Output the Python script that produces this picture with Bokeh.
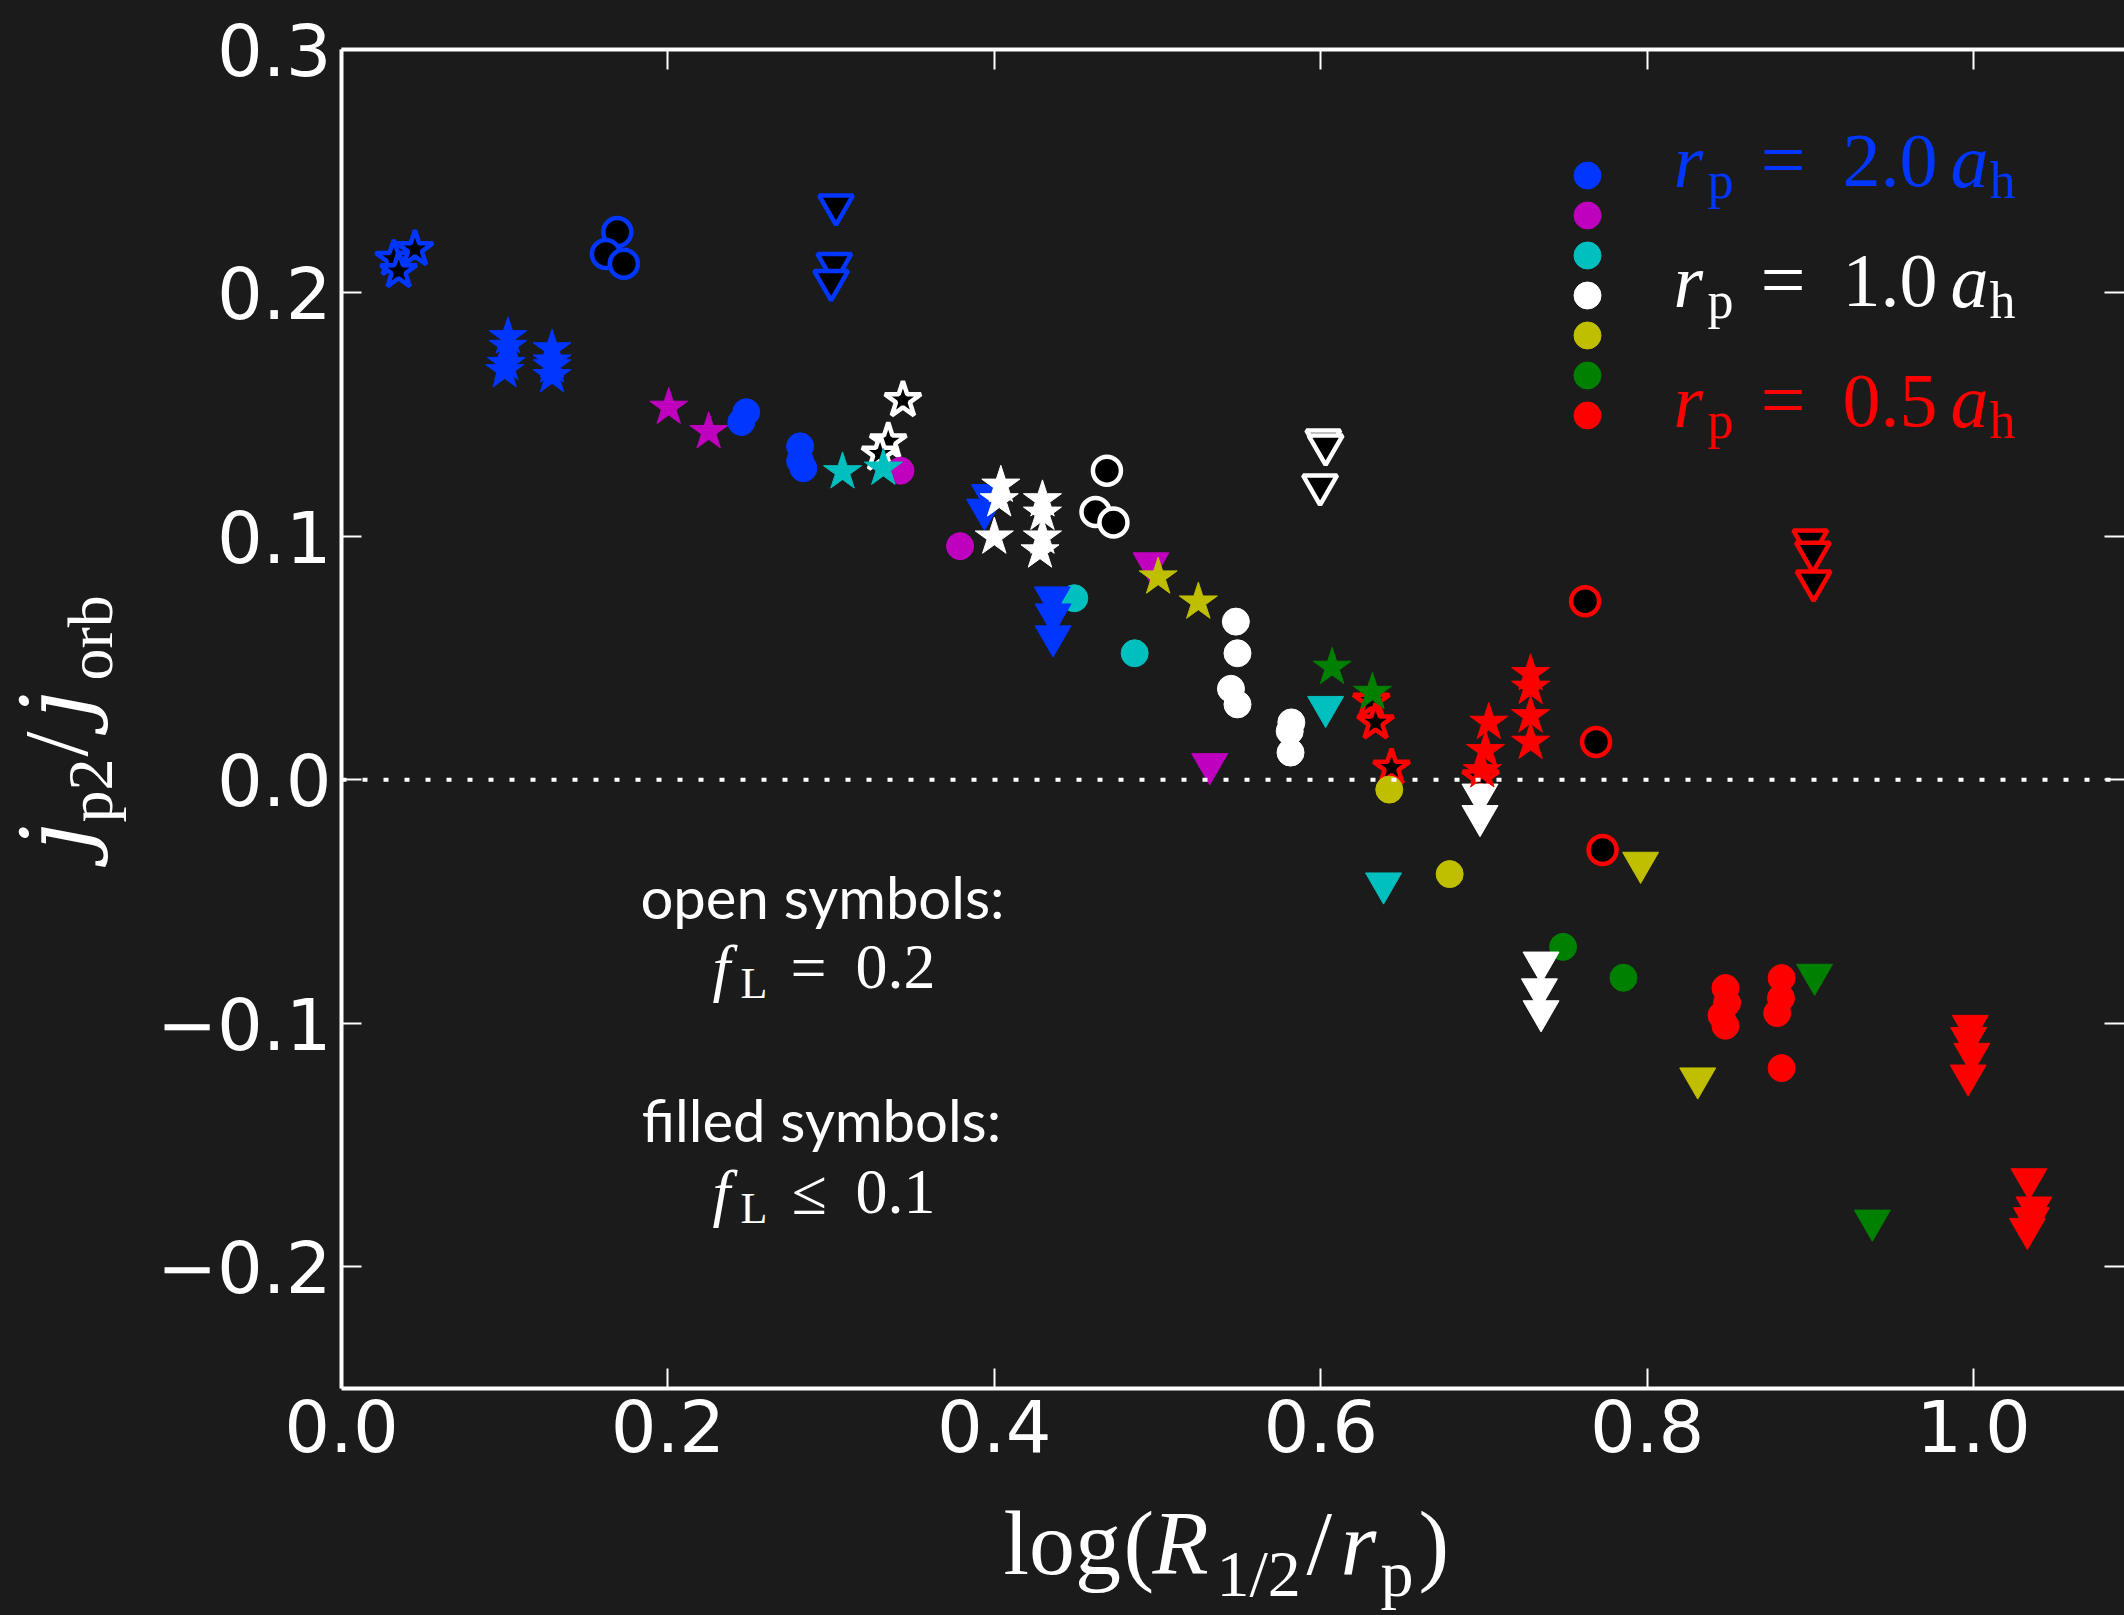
from bokeh.plotting import figure
from bokeh.models import Range1d, LinearAxis, FixedTicker, Span, Label
from bokeh.layouts import row, column
from bokeh.embed import file_html
from bokeh.resources import INLINE

# ---------------- data ----------------
# x = log(R_1/2 / r_p), y = jdot_p2 / jdot_orb
# rp = 2.0 a_h  (blue)
blue_open_star_x = [0.032, 0.045, 0.035]
blue_open_star_y = [0.214, 0.218, 0.209]
blue_open_circle_x = [0.169, 0.162, 0.173]
blue_open_circle_y = [0.225, 0.216, 0.212]
blue_open_tri_x = [0.303, 0.302, 0.300]
blue_open_tri_y = [0.236, 0.212, 0.205]
blue_star_x = [0.102, 0.102, 0.101, 0.100, 0.129, 0.129, 0.129, 0.129]
blue_star_y = [0.182, 0.178, 0.171, 0.168, 0.177, 0.172, 0.170, 0.166]
blue_circle_x = [0.248, 0.245, 0.281, 0.281, 0.283]
blue_circle_y = [0.151, 0.147, 0.137, 0.131, 0.128]
blue_tri_x = [0.397, 0.394, 0.4355, 0.436, 0.436]
blue_tri_y = [0.117, 0.111, 0.075, 0.068, 0.059]

# magenta
mag_star_x = [0.2005, 0.225]
mag_star_y = [0.153, 0.143]
mag_circle_x = [0.3425, 0.379]
mag_circle_y = [0.127, 0.096]
mag_tri_x = [0.496, 0.532]
mag_tri_y = [0.089, 0.0065]

# cyan
cyan_star_x = [0.307, 0.332]
cyan_star_y = [0.1265, 0.128]
cyan_circle_x = [0.449, 0.486]
cyan_circle_y = [0.0746, 0.052]
cyan_tri_x = [0.603, 0.6385]
cyan_tri_y = [0.030, -0.0425]

# rp = 1.0 a_h  (white)
white_open_star_x = [0.344, 0.335, 0.330]
white_open_star_y = [0.156, 0.139, 0.134]
white_open_circle_x = [0.469, 0.462, 0.473]
white_open_circle_y = [0.127, 0.110, 0.1057]
white_open_tri_x = [0.6016, 0.603, 0.5996]
white_open_tri_y = [0.1395, 0.1374, 0.121]
white_star_x = [0.404, 0.403, 0.400, 0.4295, 0.4295, 0.4295, 0.428]
white_star_y = [0.121, 0.115, 0.0997, 0.115, 0.1095, 0.0997, 0.094]
white_circle_x = [0.548, 0.549, 0.545, 0.549, 0.582, 0.581, 0.5815]
white_circle_y = [0.065, 0.052, 0.0374, 0.031, 0.0236, 0.020, 0.0112]
white_tri_x = [0.6976, 0.6976, 0.735, 0.734, 0.735]
white_tri_y = [-0.006, -0.0148, -0.075, -0.086, -0.095]

# yellow
yel_star_x = [0.5004, 0.525]
yel_star_y = [0.0833, 0.073]
yel_circle_x = [0.642, 0.679]
yel_circle_y = [-0.004, -0.0387]
yel_tri_x = [0.796, 0.831]
yel_tri_y = [-0.034, -0.1226]

# green
green_star_x = [0.607, 0.6317]
green_star_y = [0.0462, 0.0359]
green_circle_x = [0.7485, 0.7855]
green_circle_y = [-0.0686, -0.0813]
green_tri_x = [0.9026, 0.938]
green_tri_y = [-0.080, -0.181]

# rp = 0.5 a_h  (red)
red_open_star_x = [0.631, 0.6336, 0.6434, 0.698]
red_open_star_y = [0.0325, 0.0236, 0.005, 0.001]
red_open_circle_x = [0.762, 0.7687, 0.7727]
red_open_circle_y = [0.0734, 0.0156, -0.0288]
red_open_tri_x = [0.900, 0.9016, 0.902]
red_open_tri_y = [0.0984, 0.0934, 0.0816]
red_star_x = [0.703, 0.701, 0.699, 0.7286, 0.7286, 0.7286, 0.7286]
red_star_y = [0.0236, 0.012, 0.0037, 0.0436, 0.038, 0.0263, 0.0154]
red_circle_x = [0.848, 0.849, 0.8456, 0.848, 0.8824, 0.882, 0.8797, 0.8824]
red_circle_y = [-0.0855, -0.0916, -0.0967, -0.101, -0.0814, -0.0896, -0.0958, -0.1184]
red_tri_x = [0.998, 0.997, 0.999, 0.9967, 1.034, 1.037, 1.0355, 1.033]
red_tri_y = [-0.101, -0.106, -0.1125, -0.1214, -0.164, -0.1756, -0.180, -0.1844]

x_ticks = [0.0, 0.2, 0.4, 0.6, 0.8, 1.0]
x_tick_labels = ["0.0", "0.2", "0.4", "0.6", "0.8", "1.0"]
y_ticks = [-0.2, -0.1, 0.0, 0.1, 0.2, 0.3]
y_tick_labels = ["\u22120.2", "\u22120.1", "0.0", "0.1", "0.2", "0.3"]

legend_labels = ["2.0", "", "", "1.0", "", "", "0.5"]

# ---------------- style / layout ----------------
BG = "#1b1b1b"
BLUE, MAG, CYAN, WHITE = "#0036ff", "#bf00bf", "#00bfbf", "#ffffff"
YEL, GREEN, RED = "#bfbf00", "#008000", "#ff0000"
legend_colors = [BLUE, MAG, CYAN, WHITE, YEL, GREEN, RED]
SANS = "Lato"
TICKFONT = "DejaVu Sans"
SERIF = "Liberation Serif"
JFONT = "DejaVu Serif"
BGSTYLE = {"background-color": BG}

W, H = 2124, 1615          # whole page
STRIP_W = 130              # left strip holding the y title
MAIN_BOTTOM = 1488         # page y where the x-title strip starts
STRIP_H = H - MAIN_BOTTOM
MAIN_W, MAIN_H = W - STRIP_W, MAIN_BOTTOM
FRAME_L, FRAME_T, FRAME_B = 341, 49, 1388   # frame edges in page pixels
X0, X1 = 0.0, 1.0925
Y0, Y1 = -0.25, 0.30
FW = W - FRAME_L
FH = FRAME_B - FRAME_T


def px_x(px):
    return X0 + (px - FRAME_L) * (X1 - X0) / FW


def px_y(py):
    return Y1 - (py - FRAME_T) * (Y1 - Y0) / FH


def blank_fig(w, h):
    f = figure(width=w, height=h, output_backend="svg", toolbar_location=None,
               x_range=Range1d(0, 1), y_range=Range1d(0, 1),
               min_border=0, min_border_left=0, min_border_right=0,
               min_border_top=0, min_border_bottom=0,
               background_fill_color=BG, border_fill_color=BG,
               outline_line_color=None, styles=BGSTYLE,
               x_axis_location=None, y_axis_location=None)
    f.xgrid.visible = False
    f.ygrid.visible = False
    return f


p = figure(width=MAIN_W, height=MAIN_H, output_backend="svg",
           toolbar_location=None,
           x_range=Range1d(X0, X1), y_range=Range1d(Y0, Y1),
           min_border_left=FRAME_L - STRIP_W, min_border_right=0,
           min_border_top=FRAME_T, min_border_bottom=MAIN_H - FRAME_B,
           background_fill_color=BG, border_fill_color=BG,
           outline_line_color=None, styles=BGSTYLE,
           x_axis_location=None, y_axis_location=None)
p.xgrid.visible = False
p.ygrid.visible = False

ystrip = blank_fig(STRIP_W, H)
xstrip = blank_fig(MAIN_W, STRIP_H)


def make_axis(ticks, labels, show_labels, line):
    ax = LinearAxis(ticker=FixedTicker(ticks=ticks))
    ax.major_tick_in = 20
    ax.major_tick_out = 0
    ax.major_tick_line_color = "white"
    ax.major_tick_line_width = 2
    ax.minor_tick_line_color = None
    ax.axis_line_color = "white" if line else None
    ax.axis_line_width = 4
    if show_labels:
        ax.major_label_overrides = {t: l for t, l in zip(ticks, labels)}
        ax.major_label_text_font = TICKFONT
        ax.major_label_text_font_size = "72px"
        ax.major_label_text_color = "white"
    else:
        ax.major_label_text_font_size = "0px"
        ax.major_label_standoff = 0
        ax.major_label_overrides = {t: "" for t in ticks}
    return ax


bottom = make_axis(x_ticks, x_tick_labels, True, True)
bottom.major_label_standoff = 10
left = make_axis(y_ticks, y_tick_labels, True, True)
left.major_label_standoff = 10
top = make_axis(x_ticks, x_tick_labels, False, True)
right = make_axis(y_ticks, y_tick_labels, False, False)
p.add_layout(bottom, "below")
p.add_layout(left, "left")
p.add_layout(top, "above")
p.add_layout(right, "right")

p.add_layout(Span(location=0, dimension="width", line_color="white",
                  line_width=4, line_dash="5 16"))

# ---------------- markers ----------------
SIZES = {("circle", False): 27, ("circle", True): 28,
         ("inverted_triangle", False): 36, ("inverted_triangle", True): 34,
         ("star", False): 40, ("star", True): 38}

series = [
    (blue_open_circle_x, blue_open_circle_y, BLUE, "circle", True),
    (white_open_circle_x, white_open_circle_y, WHITE, "circle", True),
    (red_open_circle_x, red_open_circle_y, RED, "circle", True),
    (blue_open_tri_x, blue_open_tri_y, BLUE, "inverted_triangle", True),
    (white_open_tri_x, white_open_tri_y, WHITE, "inverted_triangle", True),
    (red_open_tri_x, red_open_tri_y, RED, "inverted_triangle", True),
    (blue_open_star_x, blue_open_star_y, BLUE, "star", True),
    (white_open_star_x, white_open_star_y, WHITE, "star", True),
    (red_open_star_x, red_open_star_y, RED, "star", True),
    (blue_circle_x, blue_circle_y, BLUE, "circle", False),
    (mag_circle_x, mag_circle_y, MAG, "circle", False),
    (cyan_circle_x, cyan_circle_y, CYAN, "circle", False),
    (white_circle_x, white_circle_y, WHITE, "circle", False),
    (yel_circle_x, yel_circle_y, YEL, "circle", False),
    (green_circle_x, green_circle_y, GREEN, "circle", False),
    (red_circle_x, red_circle_y, RED, "circle", False),
    (blue_tri_x, blue_tri_y, BLUE, "inverted_triangle", False),
    (mag_tri_x, mag_tri_y, MAG, "inverted_triangle", False),
    (cyan_tri_x, cyan_tri_y, CYAN, "inverted_triangle", False),
    (white_tri_x, white_tri_y, WHITE, "inverted_triangle", False),
    (yel_tri_x, yel_tri_y, YEL, "inverted_triangle", False),
    (green_tri_x, green_tri_y, GREEN, "inverted_triangle", False),
    (red_tri_x, red_tri_y, RED, "inverted_triangle", False),
    (blue_star_x, blue_star_y, BLUE, "star", False),
    (mag_star_x, mag_star_y, MAG, "star", False),
    (cyan_star_x, cyan_star_y, CYAN, "star", False),
    (white_star_x, white_star_y, WHITE, "star", False),
    (yel_star_x, yel_star_y, YEL, "star", False),
    (green_star_x, green_star_y, GREEN, "star", False),
    (red_star_x, red_star_y, RED, "star", False),
]

for xs, ys, col, mk, is_open in series:
    p.scatter(x=xs, y=ys, marker=mk, size=SIZES[(mk, is_open)],
              fill_color="black" if is_open else col,
              line_color=col, line_width=4.5 if is_open else 1)

# ---------------- legend (dots + math labels) ----------------
LEG_DOT_X, LEG_DOT_Y0, LEG_DY = 1587, 175, 40
leg_x = [px_x(LEG_DOT_X)] * len(legend_colors)
leg_y = [px_y(LEG_DOT_Y0 + i * LEG_DY) for i in range(len(legend_colors))]
p.scatter(x=leg_x, y=leg_y, marker="circle", size=27,
          fill_color=legend_colors, line_color=legend_colors)

BASE_SHIFT = 0.41  # Label anchors at the middle of the text box


def piece(fig, ox, oy, text, px, py, size, color="white", font=SERIF,
          style="normal", angle=0, align="left"):
    """Place text so that its baseline starts at page pixel (px, py);
    (ox, oy) is the page position of the figure's top-left corner."""
    lx, ly = px - ox, py - oy
    if angle == 0:
        ax, ay = lx, ly - BASE_SHIFT * size
    else:  # rotated 90 deg counter-clockwise: 'down' points to +x
        ax, ay = lx - BASE_SHIFT * size, ly
    fig.add_layout(Label(x=ax, y=ay, x_units="canvas", y_units="canvas",
                         text=text, text_font=font,
                         text_font_size=f"{size}px", text_font_style=style,
                         text_color=color, text_align=align,
                         text_baseline="alphabetic", angle=angle,
                         angle_units="deg"))


def main_piece(*a, **k):
    piece(p, STRIP_W, 0, *a, **k)


for i, (lab, col) in enumerate(zip(legend_labels, legend_colors)):
    if not lab:
        continue
    base = LEG_DOT_Y0 + i * LEG_DY + 17
    main_piece("r", 1673, base, 76, col, style="italic")
    main_piece("p", 1707, base + 9, 52, col)
    main_piece("=", 1760, base, 80, col)
    main_piece(lab, 1842, base, 76, col)
    main_piece("a", 1950, base, 76, col, style="italic")
    main_piece("h", 1989, base + 9, 52, col)

# ---------------- annotation ----------------
main_piece("open symbols:", 822, 920, 58, font=SANS, align="center")
main_piece("f", 712, 993, 64, style="italic")
main_piece("L", 740, 1001, 44)
main_piece("=", 790, 993, 64)
main_piece("0.2", 855, 993, 64)
main_piece("filled symbols:", 821, 1143, 58, font=SANS, align="center")
main_piece("f", 712, 1218, 64, style="italic")
main_piece("L", 740, 1226, 44)
main_piece("\u2264", 791, 1218, 64)
main_piece("0.1", 855, 1218, 64)


# ---------------- axis titles ----------------
def x_piece(*a, **k):
    piece(xstrip, STRIP_W, MAIN_H, *a, **k)


def y_piece(*a, **k):
    piece(ystrip, 0, 0, *a, **k)


# x: log(R_{1/2}/r_p)
XB, XS = 1580, 1600
x_piece("log", 1003, XB, 92)
x_piece("(", 1123, XB, 92)
x_piece("R", 1152, XB, 92, style="italic")
x_piece("1/2", 1216, XS, 66)
x_piece("/", 1306, XB, 92)
x_piece("r", 1340, XB, 92, style="italic")
x_piece("p", 1380, XS, 66)
x_piece(")", 1418, XB, 92)

# y: jdot_p2 / jdot_orb (rotated)
JDOT = "\u0237\u0307"
YB, YS = 93, 116
y_piece(JDOT, YB, 852, 90, font=JFONT, style="italic", angle=90)
y_piece("p2", YS, 822, 64, angle=90)
y_piece("/", YB, 756, 90, angle=90)
y_piece(JDOT, YB, 720, 90, font=JFONT, style="italic", angle=90)
y_piece("orb", YS, 680, 64, angle=90)

layout = row(ystrip, column(p, xstrip, styles=BGSTYLE), styles=BGSTYLE)

with open("out.html", "w") as f:
    f.write(file_html(layout, INLINE))
